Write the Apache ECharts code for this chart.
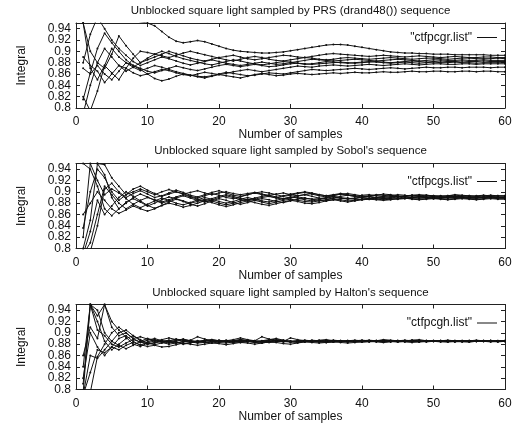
<!DOCTYPE html>
<html>
<head>
<meta charset="utf-8">
<script src="https://cdn.jsdelivr.net/npm/echarts@6/dist/echarts.min.js"></script>
<style>html,body{margin:0;padding:0;background:#fff;}#c{width:522px;height:426px;}</style>
</head>
<body>
<div id="c"></div>
<script>
const titles = [
  "Unblocked square light sampled by PRS (drand48()) sequence",
  "Unblocked square light sampled by Sobol's sequence",
  "Unblocked square light sampled by Halton's sequence"
];
const legendNames = ['"ctfpcgr.list"', '"ctfpcgs.list"', '"ctfpcgh.list"'];
const xTicks = [0, 10, 20, 30, 40, 50, 60];
const yTicks = [0.8, 0.82, 0.84, 0.86, 0.88, 0.9, 0.92, 0.94];
const samples = [1,2,3,4,5,6,7,8,9,10,11,12,13,14,15,16,17,18,19,20,21,22,23,24,25,26,27,28,29,30,
  31,32,33,34,35,36,37,38,39,40,41,42,43,44,45,46,47,48,49,50,51,52,53,54,55,56,57,58,59,60];

// PRS (drand48) runs
const prs1 = [0.960,0.970,0.962,0.965,0.960,0.956,0.958,0.955,0.952,0.950,
  0.945,0.935,0.925,0.918,0.915,0.917,0.919,0.917,0.913,0.909,
  0.905,0.902,0.900,0.899,0.898,0.897,0.897,0.898,0.899,0.901,
  0.903,0.905,0.907,0.909,0.911,0.912,0.912,0.911,0.909,0.907,
  0.905,0.903,0.901,0.899,0.898,0.897,0.897,0.896,0.896,0.895,
  0.895,0.895,0.894,0.894,0.894,0.894,0.894,0.893,0.893,0.893];
const prs2 = [0.815,0.862,0.905,0.932,0.915,0.900,0.885,0.875,0.868,0.860,
  0.852,0.848,0.851,0.856,0.860,0.858,0.855,0.853,0.856,0.859,
  0.857,0.855,0.853,0.856,0.859,0.861,0.859,0.857,0.858,0.860,
  0.861,0.860,0.859,0.860,0.861,0.862,0.861,0.862,0.863,0.862,
  0.862,0.863,0.864,0.863,0.863,0.864,0.865,0.864,0.864,0.865,
  0.865,0.864,0.864,0.865,0.865,0.864,0.865,0.865,0.864,0.864];
const prs3 = [0.790,0.840,0.880,0.870,0.895,0.927,0.910,0.895,0.880,0.885,
  0.890,0.895,0.900,0.896,0.892,0.888,0.885,0.883,0.886,0.889,
  0.891,0.893,0.890,0.887,0.885,0.887,0.889,0.891,0.893,0.892,
  0.890,0.889,0.891,0.893,0.895,0.896,0.895,0.894,0.893,0.892,
  0.891,0.892,0.893,0.892,0.891,0.890,0.891,0.892,0.891,0.890,
  0.889,0.890,0.891,0.890,0.889,0.889,0.890,0.890,0.889,0.889];
const prs4 = [0.950,0.870,0.850,0.875,0.862,0.850,0.870,0.888,0.900,0.898,
  0.895,0.892,0.889,0.893,0.897,0.900,0.897,0.894,0.891,0.888,
  0.885,0.883,0.886,0.889,0.891,0.889,0.886,0.884,0.883,0.885,
  0.887,0.889,0.888,0.886,0.885,0.886,0.888,0.889,0.888,0.887,
  0.886,0.887,0.888,0.889,0.888,0.887,0.886,0.887,0.888,0.888,
  0.887,0.886,0.887,0.888,0.888,0.887,0.887,0.887,0.888,0.887];
const prs5 = [0.880,0.930,0.960,0.940,0.920,0.905,0.893,0.882,0.875,0.880,
  0.885,0.890,0.887,0.883,0.879,0.876,0.879,0.882,0.885,0.882,
  0.879,0.877,0.875,0.877,0.879,0.881,0.879,0.877,0.878,0.880,
  0.882,0.884,0.886,0.885,0.884,0.883,0.884,0.885,0.886,0.885,
  0.884,0.883,0.884,0.885,0.886,0.885,0.884,0.883,0.884,0.885,
  0.885,0.884,0.884,0.885,0.884,0.884,0.885,0.884,0.884,0.884];
const prs6 = [0.870,0.860,0.875,0.860,0.850,0.865,0.880,0.875,0.870,0.865,
  0.862,0.866,0.870,0.874,0.871,0.868,0.866,0.869,0.872,0.875,
  0.877,0.875,0.873,0.875,0.877,0.875,0.873,0.874,0.876,0.878,
  0.879,0.878,0.877,0.878,0.879,0.880,0.881,0.880,0.879,0.880,
  0.881,0.882,0.881,0.880,0.881,0.882,0.883,0.882,0.881,0.882,
  0.883,0.882,0.882,0.883,0.882,0.882,0.883,0.882,0.882,0.882];
const prs7 = [0.890,0.875,0.865,0.845,0.860,0.875,0.870,0.862,0.857,0.860,
  0.864,0.868,0.866,0.862,0.859,0.857,0.860,0.863,0.861,0.859,
  0.861,0.864,0.866,0.868,0.866,0.864,0.866,0.868,0.870,0.872,
  0.874,0.873,0.872,0.874,0.875,0.876,0.875,0.874,0.875,0.876,
  0.877,0.876,0.875,0.876,0.877,0.878,0.877,0.876,0.877,0.878,
  0.878,0.877,0.877,0.878,0.878,0.877,0.878,0.878,0.878,0.878];
const prs8 = [0.820,0.795,0.830,0.875,0.905,0.890,0.880,0.872,0.866,0.870,
  0.875,0.872,0.868,0.864,0.861,0.858,0.856,0.855,0.857,0.860,
  0.863,0.861,0.859,0.857,0.858,0.860,0.862,0.861,0.860,0.862,
  0.864,0.866,0.868,0.867,0.866,0.867,0.868,0.869,0.870,0.869,
  0.868,0.869,0.870,0.871,0.870,0.869,0.870,0.871,0.872,0.871,
  0.871,0.872,0.872,0.871,0.872,0.872,0.872,0.871,0.872,0.872];
const prs9 = [0.950,0.900,0.880,0.905,0.890,0.875,0.865,0.872,0.880,0.888,
  0.895,0.900,0.896,0.891,0.887,0.884,0.881,0.878,0.876,0.879,
  0.882,0.885,0.883,0.880,0.878,0.876,0.878,0.880,0.882,0.881,
  0.879,0.877,0.878,0.880,0.882,0.881,0.880,0.879,0.880,0.881,
  0.882,0.881,0.880,0.879,0.880,0.881,0.880,0.879,0.880,0.881,
  0.880,0.880,0.881,0.880,0.880,0.879,0.880,0.880,0.880,0.880];

// Sobol runs
const sob1 = [0.960,0.970,0.950,0.948,0.925,0.910,0.895,0.900,0.905,0.900,
  0.895,0.900,0.904,0.900,0.896,0.899,0.902,0.898,0.895,0.898,
  0.900,0.897,0.895,0.897,0.899,0.896,0.894,0.896,0.898,0.895,
  0.893,0.895,0.897,0.895,0.893,0.894,0.896,0.894,0.892,0.894,
  0.895,0.893,0.892,0.893,0.895,0.894,0.892,0.893,0.894,0.893,
  0.892,0.893,0.894,0.893,0.892,0.893,0.894,0.893,0.892,0.893];
const sob2 = [0.836,0.900,0.940,0.925,0.900,0.885,0.895,0.905,0.910,0.903,
  0.897,0.892,0.896,0.900,0.897,0.892,0.889,0.893,0.897,0.894,
  0.890,0.888,0.891,0.895,0.898,0.895,0.892,0.890,0.893,0.896,
  0.898,0.900,0.898,0.895,0.893,0.895,0.897,0.895,0.893,0.891,
  0.893,0.895,0.894,0.892,0.891,0.893,0.894,0.893,0.891,0.892,
  0.893,0.892,0.891,0.892,0.893,0.892,0.891,0.892,0.893,0.892];
const sob3 = [0.790,0.810,0.860,0.910,0.895,0.880,0.870,0.878,0.885,0.890,
  0.886,0.882,0.886,0.891,0.895,0.891,0.887,0.884,0.888,0.892,
  0.895,0.892,0.888,0.886,0.889,0.892,0.894,0.891,0.888,0.890,
  0.893,0.895,0.892,0.889,0.887,0.889,0.892,0.894,0.892,0.889,
  0.888,0.890,0.892,0.893,0.891,0.889,0.890,0.892,0.891,0.890,
  0.889,0.891,0.892,0.891,0.890,0.889,0.891,0.891,0.890,0.890];
const sob4 = [0.820,0.950,0.920,0.895,0.905,0.898,0.888,0.878,0.872,0.878,
  0.884,0.889,0.885,0.880,0.877,0.881,0.886,0.890,0.887,0.883,
  0.880,0.883,0.887,0.890,0.887,0.884,0.882,0.885,0.888,0.891,
  0.889,0.886,0.884,0.886,0.889,0.891,0.889,0.887,0.888,0.890,
  0.891,0.889,0.888,0.889,0.891,0.892,0.890,0.889,0.890,0.891,
  0.890,0.889,0.890,0.891,0.890,0.889,0.890,0.891,0.890,0.890];
const sob5 = [0.790,0.830,0.885,0.860,0.875,0.890,0.900,0.892,0.884,0.876,
  0.871,0.876,0.882,0.887,0.883,0.878,0.875,0.879,0.884,0.888,
  0.885,0.881,0.878,0.881,0.885,0.888,0.886,0.883,0.881,0.884,
  0.887,0.889,0.887,0.885,0.884,0.886,0.888,0.889,0.887,0.886,
  0.887,0.889,0.890,0.888,0.887,0.888,0.890,0.891,0.890,0.888,
  0.889,0.890,0.891,0.890,0.889,0.889,0.890,0.891,0.890,0.889];
const sob6 = [0.950,0.940,0.910,0.870,0.858,0.870,0.882,0.888,0.882,0.875,
  0.880,0.886,0.891,0.888,0.884,0.880,0.883,0.887,0.884,0.880,
  0.877,0.880,0.884,0.887,0.885,0.882,0.879,0.882,0.885,0.887,
  0.885,0.883,0.882,0.884,0.886,0.888,0.886,0.884,0.885,0.887,
  0.888,0.887,0.886,0.887,0.888,0.889,0.888,0.887,0.888,0.889,
  0.888,0.887,0.888,0.889,0.888,0.887,0.888,0.889,0.888,0.888];
const sob7 = [0.790,0.795,0.840,0.905,0.915,0.900,0.890,0.897,0.902,0.896,
  0.890,0.893,0.898,0.903,0.899,0.894,0.891,0.895,0.899,0.902,
  0.898,0.894,0.892,0.895,0.898,0.900,0.898,0.895,0.892,0.894,
  0.897,0.899,0.896,0.893,0.891,0.893,0.896,0.897,0.895,0.893,
  0.892,0.894,0.896,0.895,0.893,0.892,0.894,0.895,0.894,0.893,
  0.892,0.893,0.895,0.894,0.893,0.892,0.893,0.894,0.893,0.893];
const sob8 = [0.860,0.880,0.900,0.885,0.870,0.862,0.868,0.875,0.870,0.866,
  0.870,0.876,0.880,0.877,0.873,0.876,0.880,0.884,0.881,0.877,
  0.874,0.877,0.881,0.884,0.881,0.878,0.876,0.879,0.882,0.885,
  0.883,0.880,0.879,0.881,0.884,0.886,0.884,0.882,0.884,0.886,
  0.887,0.886,0.885,0.886,0.888,0.889,0.887,0.886,0.887,0.888,
  0.887,0.886,0.887,0.888,0.887,0.886,0.887,0.888,0.887,0.887];
const sob9 = [0.800,0.850,0.950,0.930,0.890,0.870,0.880,0.890,0.896,0.891,
  0.885,0.880,0.884,0.889,0.893,0.889,0.885,0.882,0.886,0.890,
  0.893,0.890,0.886,0.884,0.887,0.890,0.892,0.889,0.887,0.889,
  0.891,0.889,0.887,0.888,0.890,0.892,0.890,0.888,0.889,0.891,
  0.892,0.890,0.889,0.890,0.892,0.891,0.890,0.889,0.890,0.891,
  0.891,0.890,0.889,0.890,0.891,0.890,0.890,0.891,0.890,0.890];

// Halton runs
const hal1 = [0.960,0.950,0.905,0.895,0.880,0.875,0.882,0.888,0.884,0.880,
  0.883,0.886,0.884,0.882,0.884,0.886,0.885,0.883,0.884,0.886,
  0.885,0.884,0.885,0.886,0.885,0.884,0.885,0.886,0.885,0.884,
  0.885,0.886,0.885,0.884,0.885,0.886,0.886,0.885,0.885,0.886,
  0.885,0.885,0.886,0.885,0.885,0.886,0.885,0.885,0.886,0.885,
  0.885,0.886,0.885,0.885,0.886,0.885,0.885,0.886,0.885,0.885];
const hal2 = [0.840,0.950,0.930,0.950,0.910,0.895,0.900,0.890,0.883,0.887,
  0.890,0.886,0.884,0.887,0.889,0.886,0.884,0.886,0.888,0.886,
  0.885,0.886,0.888,0.887,0.885,0.886,0.888,0.890,0.887,0.885,
  0.886,0.887,0.886,0.885,0.886,0.887,0.886,0.885,0.886,0.887,
  0.886,0.886,0.887,0.886,0.885,0.886,0.887,0.886,0.886,0.886,
  0.886,0.885,0.886,0.886,0.886,0.885,0.886,0.886,0.886,0.886];
const hal3 = [0.790,0.860,0.855,0.870,0.885,0.900,0.905,0.895,0.886,0.880,
  0.882,0.885,0.887,0.884,0.881,0.883,0.886,0.884,0.882,0.884,
  0.887,0.885,0.883,0.884,0.886,0.885,0.883,0.884,0.886,0.885,
  0.884,0.885,0.886,0.885,0.884,0.885,0.886,0.885,0.884,0.885,
  0.886,0.885,0.884,0.885,0.886,0.885,0.885,0.884,0.885,0.886,
  0.885,0.885,0.884,0.885,0.885,0.886,0.885,0.885,0.885,0.885];
const hal4 = [0.790,0.830,0.870,0.865,0.875,0.890,0.895,0.885,0.878,0.884,
  0.888,0.885,0.882,0.885,0.888,0.886,0.883,0.885,0.887,0.885,
  0.884,0.886,0.888,0.885,0.883,0.885,0.887,0.886,0.884,0.885,
  0.886,0.885,0.884,0.886,0.887,0.886,0.885,0.884,0.885,0.886,
  0.887,0.886,0.885,0.885,0.886,0.887,0.886,0.885,0.885,0.886,
  0.886,0.885,0.886,0.886,0.885,0.886,0.886,0.886,0.885,0.886];
const hal5 = [0.810,0.950,0.920,0.885,0.870,0.880,0.890,0.895,0.888,0.882,
  0.879,0.882,0.885,0.883,0.880,0.882,0.885,0.887,0.885,0.883,
  0.882,0.884,0.886,0.885,0.883,0.882,0.884,0.886,0.885,0.884,
  0.883,0.884,0.885,0.884,0.883,0.884,0.885,0.886,0.885,0.884,
  0.884,0.885,0.886,0.885,0.884,0.885,0.886,0.885,0.884,0.885,
  0.885,0.884,0.885,0.885,0.884,0.885,0.885,0.885,0.884,0.885];
const hal6 = [0.790,0.795,0.858,0.880,0.900,0.910,0.900,0.890,0.893,0.889,
  0.885,0.888,0.891,0.888,0.885,0.887,0.893,0.889,0.886,0.884,
  0.886,0.888,0.891,0.888,0.886,0.893,0.889,0.886,0.885,0.891,
  0.888,0.886,0.885,0.887,0.888,0.886,0.885,0.886,0.887,0.886,
  0.885,0.886,0.888,0.887,0.886,0.885,0.887,0.888,0.886,0.885,
  0.886,0.887,0.886,0.885,0.886,0.887,0.886,0.886,0.886,0.886];
const hal7 = [0.820,0.900,0.875,0.860,0.875,0.870,0.878,0.883,0.879,0.876,
  0.878,0.875,0.876,0.879,0.882,0.880,0.878,0.880,0.882,0.881,
  0.879,0.881,0.883,0.882,0.880,0.882,0.884,0.883,0.881,0.880,
  0.882,0.884,0.883,0.882,0.883,0.884,0.883,0.882,0.883,0.884,
  0.885,0.884,0.883,0.884,0.885,0.884,0.883,0.884,0.885,0.885,
  0.884,0.884,0.885,0.884,0.884,0.885,0.885,0.884,0.885,0.885];
const hal8 = [0.795,0.950,0.940,0.900,0.885,0.878,0.872,0.878,0.885,0.890,
  0.887,0.884,0.886,0.889,0.887,0.885,0.884,0.886,0.888,0.886,
  0.884,0.885,0.887,0.886,0.884,0.885,0.887,0.889,0.886,0.884,
  0.885,0.886,0.885,0.884,0.885,0.886,0.885,0.884,0.885,0.886,
  0.886,0.885,0.884,0.885,0.886,0.886,0.885,0.885,0.886,0.885,
  0.885,0.886,0.885,0.885,0.886,0.885,0.885,0.886,0.885,0.885];
const hal9 = [0.860,0.910,0.890,0.950,0.920,0.905,0.892,0.880,0.876,0.882,
  0.886,0.883,0.880,0.882,0.885,0.884,0.882,0.883,0.885,0.887,
  0.885,0.883,0.884,0.886,0.885,0.883,0.884,0.886,0.887,0.885,
  0.884,0.885,0.887,0.886,0.885,0.884,0.885,0.886,0.885,0.884,
  0.885,0.886,0.886,0.885,0.884,0.885,0.886,0.885,0.885,0.886,
  0.886,0.885,0.885,0.886,0.885,0.885,0.886,0.886,0.885,0.885];

const panels = [
  [prs1, prs2, prs3, prs4, prs5, prs6, prs7, prs8, prs9],
  [sob1, sob2, sob3, sob4, sob5, sob6, sob7, sob8, sob9],
  [hal1, hal2, hal3, hal4, hal5, hal6, hal7, hal8, hal9]
];

const FONT = "'Liberation Sans', Arial, Helvetica, sans-serif";
const INK = '#111';
const FRAME = '#222';
const gridTops = [23, 163.5, 304.5];
const gridH = 85;
const titleTops = [5, 145, 286.5];
const legendTops = [31.5, 175.5, 317];

const chart = echarts.init(document.getElementById('c'), null, {renderer: 'canvas'});

const grid = [], xAxis = [], yAxis = [], series = [], title = [], legend = [];
const xMin = xTicks[0], xMax = xTicks[xTicks.length - 1], xInt = xTicks[1] - xTicks[0];
const yMin = yTicks[0], yInt = 0.02, yMax = 0.95;

// label formatter showing only ticks of a given parity (to avoid label auto-hiding)
function yFmt(parity) {
  return v => {
    const idx = yTicks.findIndex(t => Math.abs(t - v) < 1e-6);
    if (idx < 0 || idx % 2 !== parity) return '';
    return String(yTicks[idx]);
  };
}

panels.forEach((runs, p) => {
  grid.push({left: 76, right: 17, top: gridTops[p], height: gridH, containLabel: false});
  title.push({
    text: titles[p], left: 290.5, top: titleTops[p], textAlign: 'center', padding: 0,
    textStyle: {fontFamily: FONT, fontSize: 11.5, fontWeight: 'normal', color: INK}
  });
  legend.push({
    data: [legendNames[p]], right: 25, top: legendTops[p], align: 'right',
    icon: 'rect', itemWidth: 20, itemHeight: 1, itemGap: 4, padding: 0,
    selectedMode: false,
    textStyle: {fontFamily: FONT, fontSize: 12, color: INK, padding: [0, 0, 0, 0]}
  });
  const tickCommon = {
    axisLine: {show: true, lineStyle: {color: FRAME, width: 1}},
    axisTick: {show: true, inside: true, length: 4, lineStyle: {color: FRAME}},
    splitLine: {show: false}
  };
  xAxis.push(Object.assign({
    gridIndex: p, type: 'value', min: xMin, max: xMax, interval: xInt, position: 'bottom',
    axisLabel: {show: true, color: INK, fontSize: 12, fontFamily: FONT, margin: 8,
      showMinLabel: true, showMaxLabel: true, hideOverlap: false},
    name: 'Number of samples', nameLocation: 'middle', nameGap: 20,
    nameTextStyle: {color: INK, fontSize: 12, fontFamily: FONT}
  }, tickCommon));
  xAxis.push(Object.assign({
    gridIndex: p, type: 'value', min: xMin, max: xMax, interval: xInt, position: 'top',
    axisLabel: {show: false}
  }, tickCommon));
  const yBase = p * 3;
  yAxis.push(Object.assign({
    gridIndex: p, type: 'value', min: yMin, max: yMax, interval: yInt, position: 'left',
    axisLabel: {
      show: true, color: INK, fontSize: 12, fontFamily: FONT, margin: 5,
      showMinLabel: true, showMaxLabel: true, hideOverlap: false, formatter: yFmt(0)
    },
    name: 'Integral', nameLocation: 'middle', nameGap: 48, nameRotate: 90,
    nameTextStyle: {color: INK, fontSize: 12, fontFamily: FONT}
  }, tickCommon));
  yAxis.push({
    gridIndex: p, type: 'value', min: yMin, max: yMax, interval: yInt, position: 'left',
    axisLine: {show: false}, axisTick: {show: false}, splitLine: {show: false},
    axisLabel: {
      show: true, color: INK, fontSize: 12, fontFamily: FONT, margin: 5,
      showMinLabel: true, showMaxLabel: true, hideOverlap: false, formatter: yFmt(1)
    }
  });
  yAxis.push(Object.assign({
    gridIndex: p, type: 'value', min: yMin, max: yMax, interval: yInt, position: 'right',
    axisLabel: {show: false}
  }, tickCommon));
  runs.forEach(arr => {
    series.push({
      type: 'line', name: legendNames[p], xAxisIndex: p * 2, yAxisIndex: yBase,
      data: arr.map((v, i) => [samples[i], v]),
      symbol: 'circle', symbolSize: 2, showSymbol: true, showAllSymbol: true,
      lineStyle: {color: INK, width: 1}, itemStyle: {color: INK},
      clip: true, silent: true, animation: false
    });
  });
});

chart.setOption({
  backgroundColor: '#fff',
  animation: false,
  textStyle: {fontFamily: FONT},
  title, legend, grid, xAxis, yAxis, series
});
</script>
</body>
</html>
